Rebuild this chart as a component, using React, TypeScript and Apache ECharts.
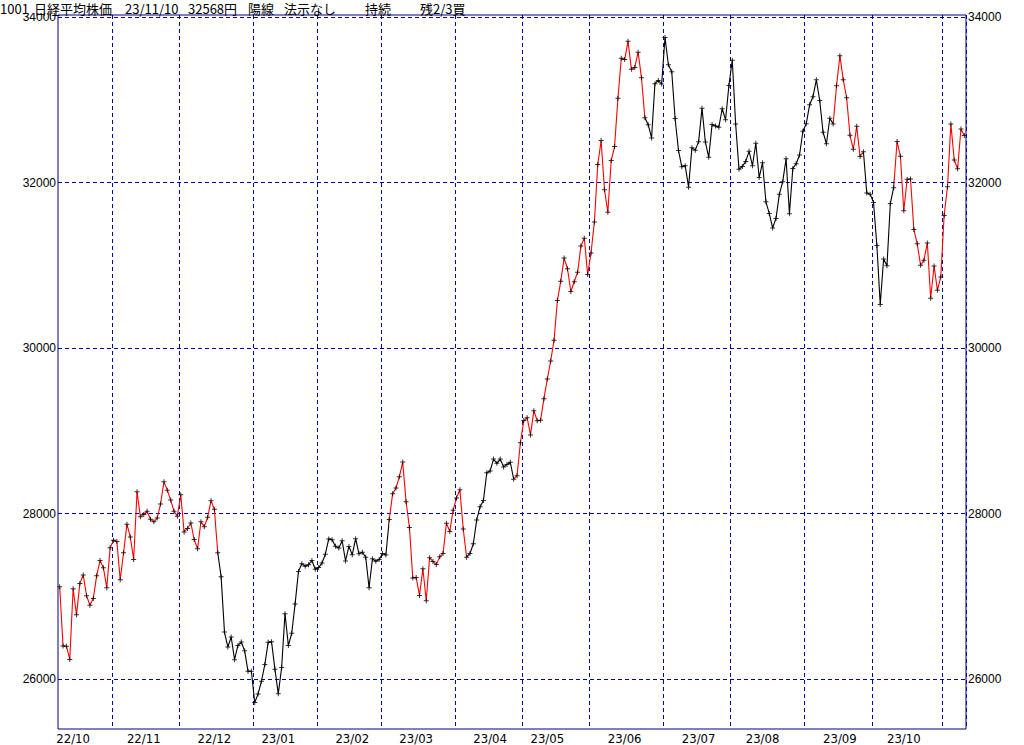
import React, { useEffect, useRef } from 'react';
import * as echarts from 'echarts';

const monthLabels = ['22/10', '22/11', '22/12', '23/01', '23/02', '23/03', '23/04', '23/05', '23/06', '23/07', '23/08', '23/09', '23/10', '23/11'];

const tradingDays = [
  [7, 11, 12, 13, 14, 17, 18, 19, 20, 21, 24, 25, 26, 27, 28, 31],
  [1, 2, 4, 7, 8, 9, 10, 11, 14, 15, 16, 17, 18, 21, 22, 24, 25, 28, 29, 30],
  [1, 2, 5, 6, 7, 8, 9, 12, 13, 14, 15, 16, 19, 20, 21, 22, 23, 26, 27, 28, 29, 30],
  [4, 5, 6, 10, 11, 12, 13, 16, 17, 18, 19, 20, 23, 24, 25, 26, 27, 30, 31],
  [1, 2, 3, 6, 7, 8, 9, 10, 13, 14, 15, 16, 17, 20, 21, 22, 24, 27, 28],
  [1, 2, 3, 6, 7, 8, 9, 10, 13, 14, 15, 16, 17, 20, 22, 23, 24, 27, 28, 29, 30, 31],
  [3, 4, 5, 6, 7, 10, 11, 12, 13, 14, 17, 18, 19, 20, 21, 24, 25, 26, 27, 28],
  [1, 2, 8, 9, 10, 11, 12, 15, 16, 17, 18, 19, 22, 23, 24, 25, 26, 29, 30, 31],
  [1, 2, 5, 6, 7, 8, 9, 12, 13, 14, 15, 16, 19, 20, 21, 22, 23, 26, 27, 28, 29, 30],
  [3, 4, 5, 6, 7, 10, 11, 12, 13, 14, 18, 19, 20, 21, 24, 25, 26, 27, 28, 31],
  [1, 2, 3, 4, 7, 8, 9, 10, 14, 15, 16, 17, 18, 21, 22, 23, 24, 25, 28, 29, 30, 31],
  [1, 4, 5, 6, 7, 8, 11, 12, 13, 14, 15, 19, 20, 21, 22, 25, 26, 27, 28, 29],
  [2, 3, 4, 5, 6, 10, 11, 12, 13, 16, 17, 18, 19, 20, 23, 24, 25, 26, 27, 30, 31],
  [1, 2, 6, 7, 8, 9, 10],
];

const oct22 = [27116, 26401, 26397, 26237, 27091, 26776, 27156, 27257, 27007, 26891, 26975, 27250, 27432, 27345, 27105, 27587];
const nov22 = [27679, 27663, 27200, 27528, 27872, 27716, 27446, 28264, 27963, 27990, 28028, 27931, 27900, 27945, 28116, 28383, 28283, 28163, 28028, 27969];
const dec22 = [28226, 27778, 27820, 27886, 27686, 27574, 27901, 27842, 27955, 28156, 28052, 27527, 27238, 26568, 26388, 26508, 26235, 26406, 26448, 26341, 26094, 26095];
const jan23 = [25717, 25821, 25974, 26176, 26446, 26450, 26120, 25822, 26139, 26791, 26405, 26554, 26906, 27299, 27395, 27363, 27383, 27433, 27327];
const feb23 = [27347, 27402, 27509, 27694, 27685, 27606, 27584, 27671, 27427, 27603, 27502, 27696, 27513, 27532, 27473, 27104, 27453, 27424, 27446];
const mar23 = [27517, 27499, 27927, 28238, 28309, 28444, 28623, 28144, 27833, 27222, 27229, 27011, 27334, 26946, 27467, 27420, 27385, 27477, 27518, 27884, 27783, 28041];
const apr23 = [28188, 28287, 27813, 27473, 27518, 27634, 27923, 28083, 28157, 28493, 28515, 28659, 28607, 28658, 28564, 28594, 28620, 28416, 28458, 28856];
const may23 = [29123, 29158, 28950, 29243, 29122, 29127, 29388, 29626, 29843, 30094, 30574, 30808, 31087, 30958, 30683, 30801, 30916, 31234, 31328, 30888];
const jun23 = [31148, 31524, 32217, 32507, 31914, 31641, 32265, 32434, 33019, 33502, 33485, 33706, 33370, 33389, 33575, 33265, 32782, 32699, 32538, 33194, 33234, 33189];
const jul23 = [33753, 33423, 33339, 32773, 32388, 32190, 32204, 31944, 32419, 32391, 32494, 32896, 32491, 32304, 32701, 32683, 32668, 32891, 32759, 33172];
const aug23 = [33477, 32708, 32159, 32193, 32255, 32377, 32204, 32474, 32060, 32239, 31767, 31626, 31451, 31566, 31857, 32010, 32287, 31624, 32170, 32227, 32333, 32619];
const sep23 = [32711, 32939, 33037, 33241, 32991, 32607, 32468, 32776, 32707, 33168, 33533, 33243, 33024, 32571, 32402, 32679, 32315, 32372, 31873, 31858];
const oct23 = [31760, 31238, 30527, 31075, 30995, 31747, 31937, 32495, 32316, 31659, 32040, 32042, 31431, 31259, 31000, 31062, 31270, 30602, 30992, 30697, 30859];
const nov23 = [31602, 31950, 32708, 32272, 32166, 32646, 32568];

const monthlyCloses = [oct22, nov22, dec22, jan23, feb23, mar23, apr23, may23, jun23, jul23, aug23, sep23, oct23, nov23];

// dates on which each month label is centred
const labelDates = ['22/10/14', '22/11/15', '22/12/15', '23/01/16', '23/02/15', '23/03/15', '23/04/17', '23/05/15', '23/06/15', '23/07/18', '23/08/15', '23/09/15', '23/10/16'];

// index ranges (point to point) drawn in red; the rest is black
const redRanges = [[0, 47], [98, 121], [135, 174], [230, 239], [248, 269]];

const yTicks = [26000, 28000, 30000, 32000, 34000];
const yMin = 25397;
const yMax = 34024;

const titleParts: [number, string][] = [
  [0, '1001'],
  [34, '日経平均株価'],
  [125, '23/11/10'],
  [188, '32568円'],
  [248, '陽線'],
  [284, '法示なし'],
  [365, '持続'],
  [420, '残2/3買'],
];

export default function App() {
  const ref = useRef<HTMLDivElement>(null);
  useEffect(() => {
    document.body.style.margin = '0';
    if (!ref.current) return;
    const chart = echarts.init(ref.current, undefined, { renderer: 'svg' });

    const dates: string[] = [];
    const closes: number[] = [];
    const monthStart = new Set<number>();
    monthLabels.forEach((m, mi) => {
      tradingDays[mi].forEach((d, di) => {
        if (di === 0 && mi > 0) monthStart.add(dates.length);
        dates.push(m + '/' + String(d).padStart(2, '0'));
        closes.push(monthlyCloses[mi][di]);
      });
    });
    const labelIdx = new Map<number, string>();
    labelDates.forEach((ld) => {
      const i = dates.indexOf(ld);
      if (i >= 0) labelIdx.set(i, ld.slice(0, 5));
    });

    const pieces: any[] = [];
    let prev = -Infinity;
    redRanges.forEach(([a, b]) => {
      if (a > 0) pieces.push(prev === -Infinity ? { lte: a, color: '#000000' } : { gt: prev, lte: a, color: '#000000' });
      pieces.push(a === 0 ? { lte: b, color: '#ff0000' } : { gt: a, lte: b, color: '#ff0000' });
      prev = b;
    });
    pieces.push({ gt: prev, color: '#000000' });

    const navy = '#000080';
    const gridDash = '#0000a8';
    const yLabel = { customValues: yTicks, formatter: (v: number) => String(v), fontFamily: '"Liberation Sans", Arial, sans-serif', fontSize: 12, color: '#000', margin: 2 };

    chart.setOption({
      animation: false,
      backgroundColor: '#ffffff',
      grid: { left: 58, top: 15, width: 908, height: 715, show: true, borderColor: navy, borderWidth: 1, backgroundColor: 'transparent' },
      xAxis: {
        type: 'category',
        data: dates,
        boundaryGap: true,
        axisLine: { show: false },
        axisTick: { show: false },
        axisLabel: {
          interval: (i: number) => labelIdx.has(i),
          formatter: (_v: string, i: number) => labelIdx.get(i) || '',
          fontFamily: '"Liberation Sans Narrow", "DejaVu Sans Condensed", sans-serif',
          fontSize: 13,
          color: '#000',
          margin: 3,
        },
        splitLine: {
          show: true,
          interval: (i: number) => monthStart.has(i),
          lineStyle: { color: gridDash, type: [4, 3], width: 1 },
        },
      },
      yAxis: [
        {
          type: 'value',
          min: yMin,
          max: yMax,
          position: 'left',
          axisLine: { show: false },
          axisTick: { show: false, customValues: yTicks },
          axisLabel: yLabel,
          splitLine: { show: true, lineStyle: { color: gridDash, type: [4, 3], width: 1 } },
        },
        {
          type: 'value',
          min: yMin,
          max: yMax,
          position: 'right',
          axisLine: { show: false },
          axisTick: { show: false, customValues: yTicks },
          axisLabel: yLabel,
          splitLine: { show: false },
        },
      ],
      visualMap: {
        show: false,
        type: 'piecewise',
        dimension: 0,
        seriesIndex: 0,
        pieces,
      },
      series: [
        {
          type: 'line',
          data: closes,
          showSymbol: false,
          lineStyle: { width: 1.1 },
          z: 3,
        },
        {
          type: 'scatter',
          data: closes,
          symbol: 'path://M2,0H3V2H5V3H3V5H2V3H0V2H2Z',
          symbolSize: 5,
          itemStyle: { color: '#000000' },
          z: 4,
        },
      ],
      graphic: [
        { type: 'rect', shape: { x: 0, y: 0, width: 57, height: 13 }, style: { fill: '#ffffff' }, z: 100 },
        ...titleParts.map(([x, t]) => ({
          type: 'text',
          x,
          y: 2,
          z: 101,
          style: { text: t, fill: '#000', fontSize: 13, fontFamily: '"Noto Sans CJK JP", sans-serif', verticalAlign: 'top' },
        })),
      ],
    });
    return () => chart.dispose();
  }, []);
  return <div ref={ref} style={{ width: 1024, height: 745 }} />;
}
